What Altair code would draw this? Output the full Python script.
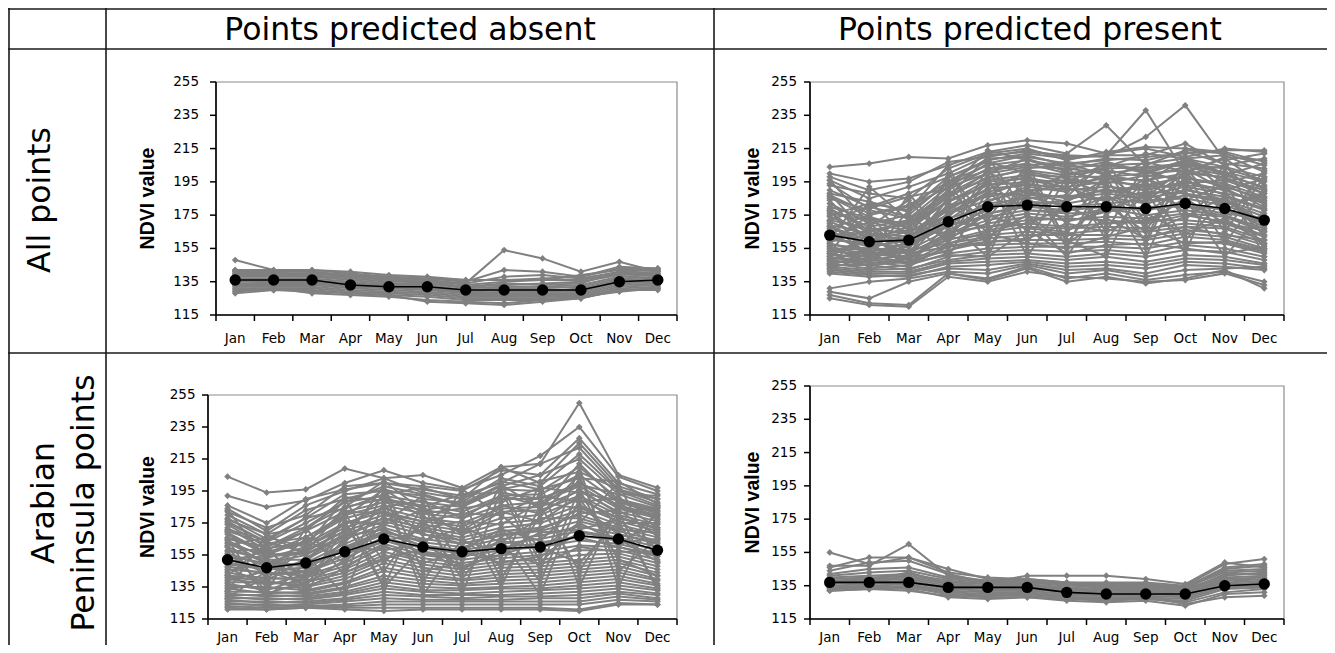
import altair as alt
import pandas as pd

# ---------------- data ----------------
MONTHS = ["Jan", "Feb", "Mar", "Apr", "May", "Jun", "Jul", "Aug", "Sep", "Oct", "Nov", "Dec"]
Y_TICKS = [115, 135, 155, 175, 195, 215, 235, 255]
COL_HEADERS = ["Points predicted absent", "Points predicted present"]
ROW_HEADERS = ["All points", "Arabian\nPeninsula points"]
Y_TITLE = "NDVI value"

MEAN_ABSENT_ALL = [136, 136, 136, 133, 132, 132, 130, 130, 130, 130, 135, 136]
MEAN_PRESENT_ALL = [163, 159, 160, 171, 180, 181, 180, 180, 179, 182, 179, 172]
MEAN_ABSENT_ARAB = [152, 147, 150, 157, 165, 160, 157, 159, 160, 167, 165, 158]
MEAN_PRESENT_ARAB = [137, 137, 137, 134, 134, 134, 131, 130, 130, 130, 135, 136]

LINES_ABSENT_ALL = [
    [148, 142, 141, 138, 136, 135, 134, 154, 149, 141, 147, 141],
    [142, 141, 142, 140, 138, 137, 135, 142, 141, 138, 144, 143],
    [141, 141, 141, 139, 137, 136, 134, 138, 139, 137, 141, 142],
    [140, 140, 140, 138, 137, 136, 133, 135, 136, 136, 140, 141],
    [139, 139, 139, 137, 135, 135, 132, 133, 134, 135, 139, 140],
    [138, 138, 138, 136, 134, 134, 131, 132, 132, 133, 138, 139],
    [137, 137, 137, 135, 133, 133, 130, 131, 131, 132, 137, 138],
    [136, 136, 136, 134, 133, 132, 129, 130, 130, 130, 136, 137],
    [135, 135, 135, 133, 132, 131, 128, 129, 129, 129, 135, 136],
    [134, 134, 134, 132, 131, 130, 128, 128, 128, 128, 134, 135],
    [133, 133, 133, 131, 130, 129, 127, 127, 127, 127, 133, 134],
    [132, 132, 132, 130, 129, 128, 126, 126, 126, 126, 132, 133],
    [131, 131, 131, 129, 128, 127, 125, 125, 125, 125, 131, 132],
    [130, 130, 130, 128, 127, 126, 124, 124, 124, 125, 130, 131],
    [129, 131, 128, 127, 126, 124, 123, 122, 124, 126, 129, 131],
    [128, 130, 129, 128, 127, 123, 122, 121, 123, 125, 130, 130],
    [142, 142, 142, 141, 139, 138, 136, 136, 136, 139, 142, 142],
    [141, 140, 140, 139, 138, 137, 136, 136, 137, 138, 143, 143],
    [139, 141, 138, 138, 136, 134, 132, 134, 133, 134, 141, 139],
    [133, 135, 134, 133, 131, 131, 129, 127, 129, 131, 136, 134],
]

LINES_PRESENT_ALL = [
    [204, 206, 210, 209, 217, 220, 218, 212, 215, 210, 215, 213],
    [200, 195, 197, 205, 213, 217, 212, 229, 205, 214, 212, 205],
    [198, 190, 195, 207, 210, 214, 210, 211, 238, 200, 210, 208],
    [196, 185, 192, 200, 211, 213, 211, 210, 222, 241, 208, 212],
    [193, 188, 185, 203, 212, 215, 208, 213, 216, 215, 213, 207],
    [190, 180, 188, 198, 208, 212, 209, 211, 211, 218, 205, 209],
    [187, 176, 181, 195, 209, 210, 206, 208, 210, 212, 214, 214],
    [185, 178, 173, 192, 206, 211, 205, 209, 208, 213, 206, 203],
    [182, 170, 175, 195, 205, 208, 204, 205, 206, 209, 204, 198],
    [180, 173, 170, 190, 203, 206, 200, 203, 204, 206, 203, 196],
    [178, 168, 172, 188, 200, 204, 203, 200, 203, 205, 201, 195],
    [176, 172, 168, 186, 198, 202, 199, 202, 198, 204, 199, 192],
    [174, 165, 170, 183, 196, 199, 198, 198, 200, 202, 197, 190],
    [172, 167, 164, 180, 195, 197, 194, 197, 196, 200, 198, 188],
    [171, 162, 166, 184, 193, 195, 196, 194, 199, 197, 194, 186],
    [169, 164, 162, 178, 191, 193, 192, 195, 193, 198, 192, 185],
    [168, 160, 165, 175, 189, 194, 190, 192, 190, 195, 190, 182],
    [166, 163, 160, 181, 186, 190, 191, 189, 192, 193, 191, 180],
    [165, 158, 163, 172, 188, 187, 186, 190, 187, 192, 188, 184],
    [163, 161, 158, 176, 184, 189, 185, 188, 185, 190, 186, 178],
    [162, 156, 160, 170, 182, 185, 187, 184, 189, 188, 184, 176],
    [160, 158, 156, 173, 180, 183, 182, 186, 182, 187, 183, 174],
    [158, 153, 158, 168, 178, 186, 180, 182, 184, 185, 181, 172],
    [157, 155, 154, 166, 176, 180, 178, 180, 178, 182, 178, 170],
    [156, 151, 156, 169, 174, 178, 176, 177, 180, 180, 179, 168],
    [155, 154, 152, 164, 172, 176, 174, 179, 175, 178, 175, 167],
    [154, 150, 153, 162, 170, 174, 172, 174, 173, 176, 174, 165],
    [153, 152, 149, 165, 168, 172, 173, 172, 170, 175, 171, 163],
    [152, 148, 151, 160, 166, 170, 168, 170, 172, 172, 170, 162],
    [151, 150, 147, 158, 165, 168, 167, 168, 167, 170, 168, 160],
    [150, 146, 149, 161, 163, 165, 164, 166, 165, 168, 167, 158],
    [149, 148, 146, 156, 161, 163, 163, 163, 162, 166, 164, 157],
    [148, 145, 147, 154, 159, 160, 160, 161, 160, 164, 162, 155],
    [147, 147, 144, 157, 157, 158, 158, 159, 157, 162, 160, 154],
    [146, 143, 145, 152, 155, 156, 156, 156, 155, 159, 158, 152],
    [145, 145, 142, 150, 153, 154, 153, 154, 152, 157, 155, 150],
    [144, 142, 143, 148, 151, 152, 150, 152, 150, 154, 153, 148],
    [143, 141, 141, 147, 149, 150, 148, 150, 147, 151, 150, 146],
    [142, 140, 140, 146, 147, 148, 146, 147, 145, 149, 148, 145],
    [141, 139, 138, 144, 145, 147, 144, 145, 143, 147, 146, 143],
    [140, 138, 139, 143, 142, 146, 142, 143, 140, 145, 144, 142],
    [131, 135, 137, 141, 140, 145, 140, 142, 138, 142, 143, 144],
    [129, 125, 135, 140, 137, 144, 137, 140, 136, 139, 141, 135],
    [127, 122, 121, 140, 136, 143, 135, 138, 134, 137, 142, 131],
    [125, 121, 120, 138, 135, 141, 138, 137, 135, 136, 140, 133],
    [196, 170, 152, 182, 165, 192, 170, 198, 158, 204, 175, 165],
    [152, 183, 162, 196, 158, 202, 155, 203, 166, 196, 158, 190],
    [178, 148, 188, 160, 204, 158, 198, 165, 206, 172, 196, 150],
    [188, 162, 148, 200, 172, 206, 158, 190, 150, 200, 165, 198],
    [160, 192, 172, 150, 190, 165, 205, 175, 195, 160, 185, 170],
    [170, 150, 178, 205, 155, 188, 200, 160, 190, 152, 208, 160],
    [145, 168, 184, 158, 198, 150, 186, 208, 170, 185, 150, 178],
    [184, 158, 145, 170, 150, 200, 160, 150, 198, 176, 170, 202],
    [158, 175, 150, 186, 210, 175, 150, 185, 160, 210, 190, 155],
    [175, 182, 178, 198, 207, 200, 195, 206, 200, 207, 195, 200],
    [167, 175, 180, 192, 200, 209, 201, 196, 207, 201, 209, 193],
    [159, 166, 170, 187, 197, 203, 206, 199, 195, 209, 200, 191],
    [153, 160, 168, 183, 193, 198, 191, 205, 202, 194, 196, 188],
    [148, 155, 162, 179, 190, 201, 197, 193, 186, 203, 190, 197],
    [146, 149, 157, 185, 201, 188, 183, 197, 191, 199, 205, 181],
    [164, 152, 150, 177, 187, 196, 192, 183, 197, 188, 182, 186],
    [179, 166, 158, 169, 183, 192, 189, 200, 181, 196, 187, 179],
    [186, 174, 167, 164, 180, 187, 196, 188, 194, 184, 193, 183],
    [172, 180, 174, 160, 176, 181, 184, 191, 183, 201, 178, 189],
    [161, 171, 165, 174, 194, 178, 177, 186, 177, 191, 184, 169],
    [150, 163, 172, 189, 171, 185, 171, 177, 188, 180, 176, 173],
    [156, 147, 160, 171, 168, 170, 180, 170, 171, 185, 170, 166],
    [168, 157, 148, 163, 175, 167, 165, 181, 165, 174, 186, 163],
    [145, 152, 154, 158, 162, 175, 158, 173, 161, 168, 163, 160],
    [177, 160, 152, 156, 159, 161, 170, 165, 176, 164, 173, 158],
    [152, 144, 150, 153, 164, 158, 155, 162, 168, 158, 159, 153],
    [143, 150, 146, 151, 150, 166, 152, 157, 158, 155, 152, 156],
    [188, 183, 177, 194, 202, 205, 207, 204, 212, 209, 211, 201],
    [194, 179, 186, 191, 214, 208, 202, 207, 201, 208, 199, 206],
]

LINES_ABSENT_ARAB = [
    [204, 194, 196, 209, 203, 205, 197, 210, 212, 250, 205, 197],
    [192, 185, 189, 200, 208, 200, 196, 205, 217, 235, 204, 195],
    [186, 175, 190, 196, 200, 198, 195, 208, 205, 228, 200, 193],
    [184, 170, 186, 195, 203, 194, 190, 210, 200, 225, 198, 190],
    [182, 172, 180, 198, 200, 196, 192, 200, 212, 222, 196, 188],
    [180, 168, 183, 190, 196, 190, 188, 203, 198, 218, 195, 186],
    [178, 165, 178, 193, 195, 192, 186, 198, 205, 215, 193, 185],
    [176, 163, 175, 188, 192, 188, 185, 196, 195, 210, 190, 184],
    [174, 160, 172, 185, 190, 186, 182, 192, 193, 205, 188, 182],
    [172, 158, 170, 182, 188, 183, 180, 190, 190, 200, 186, 180],
    [170, 162, 166, 180, 186, 181, 178, 186, 188, 198, 184, 178],
    [168, 155, 164, 178, 184, 178, 175, 184, 185, 195, 182, 176],
    [166, 157, 162, 175, 182, 176, 173, 182, 183, 192, 180, 174],
    [164, 153, 160, 172, 180, 174, 170, 178, 180, 190, 178, 172],
    [162, 155, 157, 170, 178, 172, 168, 175, 177, 186, 176, 170],
    [160, 150, 155, 168, 176, 170, 166, 172, 175, 183, 174, 168],
    [158, 152, 152, 165, 174, 168, 164, 170, 172, 180, 172, 166],
    [156, 148, 150, 162, 172, 165, 162, 167, 170, 176, 170, 164],
    [154, 150, 148, 160, 170, 163, 160, 165, 167, 173, 168, 162],
    [152, 146, 147, 158, 168, 161, 158, 162, 165, 170, 166, 160],
    [150, 147, 145, 155, 166, 159, 156, 160, 162, 167, 164, 158],
    [148, 143, 144, 153, 164, 157, 154, 158, 160, 164, 162, 156],
    [146, 144, 142, 150, 162, 155, 152, 155, 157, 161, 160, 154],
    [144, 140, 141, 148, 160, 153, 150, 153, 155, 158, 158, 152],
    [142, 141, 139, 146, 157, 151, 148, 151, 152, 155, 156, 150],
    [140, 137, 138, 144, 155, 149, 146, 149, 150, 152, 154, 148],
    [138, 138, 136, 142, 152, 147, 144, 147, 148, 150, 152, 146],
    [136, 134, 135, 140, 150, 145, 142, 145, 146, 148, 150, 144],
    [135, 135, 133, 138, 147, 143, 140, 143, 144, 146, 148, 142],
    [134, 131, 132, 137, 145, 141, 139, 141, 142, 144, 146, 140],
    [132, 132, 131, 135, 142, 139, 137, 139, 140, 142, 144, 139],
    [131, 129, 130, 134, 140, 137, 136, 137, 138, 140, 142, 137],
    [130, 130, 129, 132, 138, 135, 134, 135, 136, 138, 140, 136],
    [129, 127, 128, 131, 136, 133, 133, 134, 134, 136, 138, 134],
    [128, 128, 127, 130, 134, 132, 131, 132, 133, 134, 136, 133],
    [127, 125, 126, 128, 132, 130, 130, 130, 131, 132, 134, 131],
    [126, 126, 125, 127, 130, 129, 128, 129, 129, 130, 132, 130],
    [125, 123, 124, 126, 128, 127, 127, 127, 128, 128, 131, 128],
    [124, 124, 123, 124, 126, 126, 126, 126, 126, 126, 129, 127],
    [123, 122, 123, 123, 124, 124, 124, 124, 124, 124, 127, 126],
    [122, 121, 122, 122, 122, 122, 122, 122, 122, 121, 125, 124],
    [121, 121, 122, 121, 120, 121, 121, 121, 121, 120, 124, 124],
    [183, 152, 135, 172, 145, 178, 140, 172, 138, 196, 152, 142],
    [132, 168, 155, 130, 188, 138, 178, 135, 186, 145, 182, 133],
    [160, 132, 172, 142, 196, 130, 165, 148, 200, 135, 188, 172],
    [142, 162, 128, 182, 135, 188, 130, 196, 145, 210, 135, 186],
    [170, 140, 160, 190, 150, 175, 190, 140, 180, 205, 145, 165],
    [150, 158, 140, 165, 198, 145, 150, 200, 150, 175, 200, 150],
    [128, 145, 165, 150, 175, 192, 145, 165, 130, 190, 160, 180],
    [165, 128, 150, 176, 135, 160, 196, 180, 160, 150, 176, 135],
    [177, 168, 172, 188, 198, 193, 186, 196, 201, 207, 196, 190],
    [171, 164, 178, 184, 193, 197, 190, 201, 196, 203, 201, 187],
    [165, 160, 170, 191, 189, 185, 193, 194, 190, 199, 193, 192],
    [169, 156, 166, 179, 196, 181, 184, 188, 197, 194, 189, 183],
    [161, 166, 160, 174, 185, 189, 178, 192, 186, 201, 185, 179],
    [157, 159, 163, 182, 181, 176, 181, 180, 192, 188, 191, 177],
    [163, 150, 158, 170, 192, 179, 170, 186, 181, 196, 181, 185],
    [153, 154, 156, 166, 178, 172, 176, 174, 188, 184, 179, 171],
    [149, 146, 151, 176, 174, 183, 168, 182, 176, 192, 175, 175],
    [155, 143, 145, 163, 186, 168, 162, 168, 171, 181, 183, 167],
    [145, 151, 148, 159, 169, 164, 172, 163, 178, 178, 171, 169],
    [141, 139, 153, 167, 171, 160, 158, 171, 164, 186, 168, 163],
    [147, 136, 143, 156, 163, 171, 164, 157, 169, 171, 177, 159],
    [139, 145, 137, 152, 166, 156, 153, 164, 159, 175, 163, 165],
    [137, 133, 141, 160, 158, 162, 148, 155, 163, 166, 160, 155],
    [133, 139, 134, 147, 161, 150, 157, 150, 154, 169, 165, 151],
    [143, 131, 138, 144, 153, 158, 146, 158, 149, 160, 157, 157],
    [175, 163, 157, 185, 201, 183, 187, 199, 184, 212, 188, 181],
]

LINES_PRESENT_ARAB = [
    [155, 148, 152, 143, 140, 139, 137, 136, 136, 134, 146, 148],
    [146, 152, 152, 145, 139, 138, 136, 135, 135, 135, 148, 151],
    [147, 147, 160, 141, 138, 137, 136, 135, 134, 133, 145, 147],
    [144, 149, 150, 142, 137, 141, 141, 141, 139, 136, 149, 146],
    [142, 145, 146, 140, 138, 139, 137, 137, 137, 135, 144, 145],
    [141, 143, 144, 139, 137, 137, 135, 136, 136, 134, 143, 144],
    [140, 141, 142, 138, 136, 136, 134, 135, 135, 133, 141, 143],
    [139, 140, 141, 137, 136, 135, 133, 134, 134, 132, 140, 141],
    [138, 139, 140, 136, 135, 134, 133, 133, 133, 131, 139, 140],
    [137, 138, 139, 135, 134, 133, 132, 132, 132, 130, 138, 139],
    [136, 137, 138, 134, 133, 133, 131, 131, 131, 130, 137, 138],
    [135, 136, 137, 133, 132, 132, 130, 130, 130, 129, 136, 137],
    [134, 135, 136, 132, 131, 131, 129, 129, 129, 128, 135, 136],
    [133, 134, 135, 131, 130, 130, 128, 128, 128, 127, 134, 135],
    [132, 133, 134, 130, 129, 129, 127, 127, 127, 126, 133, 134],
    [132, 133, 132, 129, 128, 128, 127, 126, 127, 125, 131, 133],
    [133, 134, 133, 128, 127, 128, 126, 125, 126, 123, 130, 131],
    [134, 135, 134, 130, 129, 130, 128, 127, 128, 124, 128, 129],
    [140, 138, 143, 136, 134, 136, 132, 133, 131, 132, 142, 142],
    [136, 140, 135, 132, 135, 131, 134, 130, 133, 128, 140, 136],
]

# ---------------- layout / style ----------------
W, H = 1319, 637
GRAY = "#808080"
BORDER = "#1a1a1a"
FONT = "DejaVu Sans"
TICK = 6

PANELS = [
    dict(lines=LINES_ABSENT_ALL, mean=MEAN_ABSENT_ALL, x0=208, x1=669, yb=307, yt=74,
         ylab=11 + TICK, tx=-68, xlab=24),
    dict(lines=LINES_PRESENT_ALL, mean=MEAN_PRESENT_ALL, x0=802, x1=1276, yb=307, yt=74,
         ylab=7 + TICK, tx=-57, xlab=24),
    dict(lines=LINES_ABSENT_ARAB, mean=MEAN_ABSENT_ARAB, x0=200, x1=669, yb=611, yt=387,
         ylab=6.5 + TICK, tx=-60, xlab=19),
    dict(lines=LINES_PRESENT_ARAB, mean=MEAN_PRESENT_ARAB, x0=802, x1=1276, yb=611, yt=378,
         ylab=7 + TICK, tx=-57, xlab=19),
]


def long_df(series):
    rows = []
    for s, vals in enumerate(series):
        for m, v in enumerate(vals):
            rows.append({"s": s, "m": m, "v": v})
    return pd.DataFrame(rows)


def one_row():
    return alt.Data(values=[{"k": 0}])


def panel(cfg):
    xs = alt.Scale(domain=[-0.5, len(MONTHS) - 0.5], range=[cfg["x0"], cfg["x1"]], nice=False, zero=False)
    ys = alt.Scale(domain=[Y_TICKS[0], Y_TICKS[-1]], range=[cfg["yb"], cfg["yt"]], nice=False, zero=False)
    X = alt.X("m:Q", scale=xs, axis=None)
    Y = alt.Y("v:Q", scale=ys, axis=None)

    frame = alt.Chart(one_row()).mark_rect(fillOpacity=0, stroke="#8c8c8c", strokeWidth=1.2).encode(
        x=alt.X(datum=-0.5, type="quantitative", scale=xs, axis=None),
        x2=alt.X2(datum=len(MONTHS) - 0.5),
        y=alt.Y(datum=Y_TICKS[0], type="quantitative", scale=ys, axis=None),
        y2=alt.Y2(datum=Y_TICKS[-1]),
    )
    gdf = long_df(cfg["lines"])
    mdf = pd.DataFrame({"m": list(range(len(MONTHS))), "v": cfg["mean"]})
    glines = alt.Chart(gdf).mark_line(color=GRAY, strokeWidth=2).encode(x=X, y=Y, detail="s:N")
    gpts = alt.Chart(gdf).mark_point(shape="diamond", filled=True, color=GRAY, size=45, opacity=1).encode(x=X, y=Y)
    mline = alt.Chart(mdf).mark_line(color="black", strokeWidth=1.6).encode(x=X, y=Y)
    mpts = alt.Chart(mdf).mark_circle(color="black", size=130, opacity=1).encode(x=X, y=Y)

    # axis lines (drawn through the panel's own scales)
    ydom = alt.Chart(one_row()).mark_rule(color="black", strokeWidth=1.6).encode(
        x=alt.X(datum=-0.5, type="quantitative", scale=xs, axis=None),
        y=alt.Y(datum=Y_TICKS[0], type="quantitative", scale=ys, axis=None),
        y2=alt.Y2(datum=Y_TICKS[-1]),
    )
    xdom = alt.Chart(one_row()).mark_rule(color="black", strokeWidth=1.6).encode(
        x=alt.X(datum=-0.5, type="quantitative", scale=xs, axis=None),
        x2=alt.X2(datum=len(MONTHS) - 0.5),
        y=alt.Y(datum=Y_TICKS[0], type="quantitative", scale=ys, axis=None),
    )
    ytick_df = pd.DataFrame({"v": Y_TICKS})
    yticks = alt.Chart(ytick_df).mark_rule(color="black", strokeWidth=1.5).encode(
        y=Y, x=alt.value(cfg["x0"] - TICK), x2=alt.value(cfg["x0"]))
    ylabels = alt.Chart(ytick_df).mark_text(
        align="right", baseline="middle", font=FONT, fontSize=13.5, color="black").encode(
        y=Y, x=alt.value(cfg["x0"] - cfg["ylab"]), text="v:Q")
    xb_df = pd.DataFrame({"m": [i - 0.5 for i in range(len(MONTHS) + 1)]})
    xticks = alt.Chart(xb_df).mark_rule(color="black", strokeWidth=1.5).encode(
        x=X, y=alt.value(cfg["yb"]), y2=alt.value(cfg["yb"] + TICK))
    xl_df = pd.DataFrame({"m": list(range(len(MONTHS))), "name": MONTHS})
    xlabels = alt.Chart(xl_df).mark_text(
        align="center", baseline="middle", font=FONT, fontSize=13.5, color="black").encode(
        x=X, y=alt.value(cfg["yb"] + cfg["xlab"]), text="name:N")
    ytitle = alt.Chart(one_row()).mark_text(
        text=Y_TITLE, font="Liberation Sans", fontSize=19.5, fontWeight="bold", color="black",
        angle=270, align="center", baseline="middle").encode(
        x=alt.value(cfg["x0"] + cfg["tx"]), y=alt.value((cfg["yb"] + cfg["yt"]) / 2))

    return alt.layer(frame, glines, gpts, mline, mpts, ydom, xdom, yticks, ylabels, xticks, xlabels, ytitle)


def hrule(y):
    return alt.Chart(one_row()).mark_rule(color=BORDER, strokeWidth=1.6).encode(
        x=alt.value(0), x2=alt.value(W), y=alt.value(y))


def vrule(x):
    return alt.Chart(one_row()).mark_rule(color=BORDER, strokeWidth=1.6).encode(
        x=alt.value(x), y=alt.value(0), y2=alt.value(H))


def label(text, x, y, angle=0, **kw):
    return alt.Chart(one_row()).mark_text(
        text=text, font=FONT, fontSize=31.5, color="black", align="center",
        baseline="alphabetic", angle=angle, **kw).encode(x=alt.value(x), y=alt.value(y))


layers = [
    hrule(1), hrule(41), hrule(345),
    vrule(1), vrule(98), vrule(706),
    label(COL_HEADERS[0], 402, 32),
    label(COL_HEADERS[1], 1022, 32),
    label(ROW_HEADERS[0], 42, 192, angle=270),
    label(ROW_HEADERS[1], 46, 495, angle=270, lineBreak="\n", lineHeight=40),
]
layers += [panel(p) for p in PANELS]

chart = alt.layer(*layers).resolve_scale(x="independent", y="independent").properties(
    width=W, height=H, autosize=alt.AutoSizeParams(type="none"), padding=0
).configure_view(strokeWidth=0)

chart.save("out.html", embed_options={"renderer": "svg", "actions": False})
